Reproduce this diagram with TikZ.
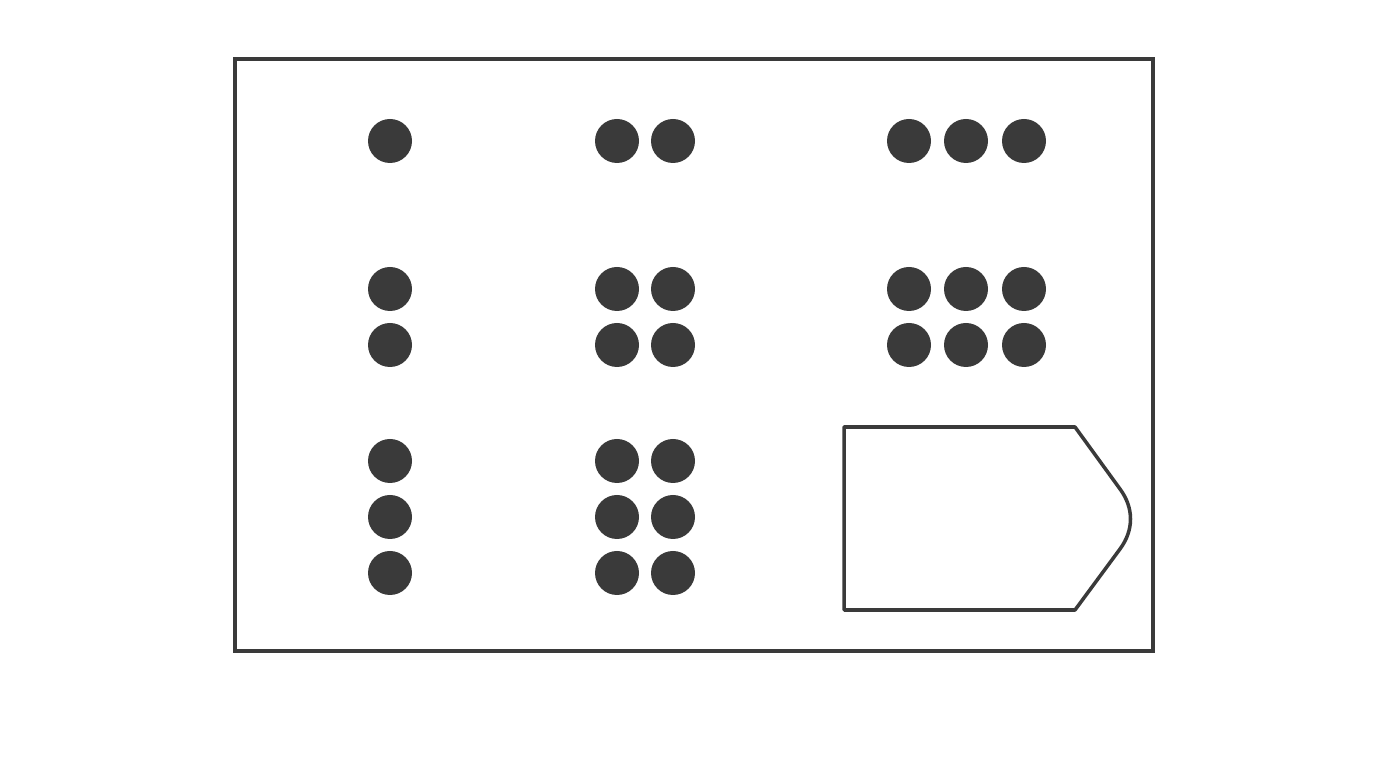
\documentclass[tikz,border=0pt]{standalone}
\usepackage{xcolor}
\usepackage{tikz}
\definecolor{ink}{RGB}{58,58,58}
\begin{document}
\begin{tikzpicture}[x=0.02cm,y=-0.02cm,line width=2pt]
\useasboundingbox(0,0)rectangle(1400,759);
\draw[ink](235,59)rectangle(1153,651);
\foreach \x/\y in {390/141,617/141,673/141,909/141,966/141,1024/141,
390/289,390/345,617/289,673/289,617/345,673/345,
909/289,966/289,1024/289,909/345,966/345,1024/345,
390/461,390/517,390/573,617/461,673/461,617/517,673/517,617/573,673/573}
\fill[ink](\x,\y)circle(22);
\draw[ink,line join=round](844,427)--(1075,427)--(1120,489)
.. controls (1134,508) and (1134,530) .. (1120,549)--(1075,610)--(844,610)--cycle;
\end{tikzpicture}
\end{document}
